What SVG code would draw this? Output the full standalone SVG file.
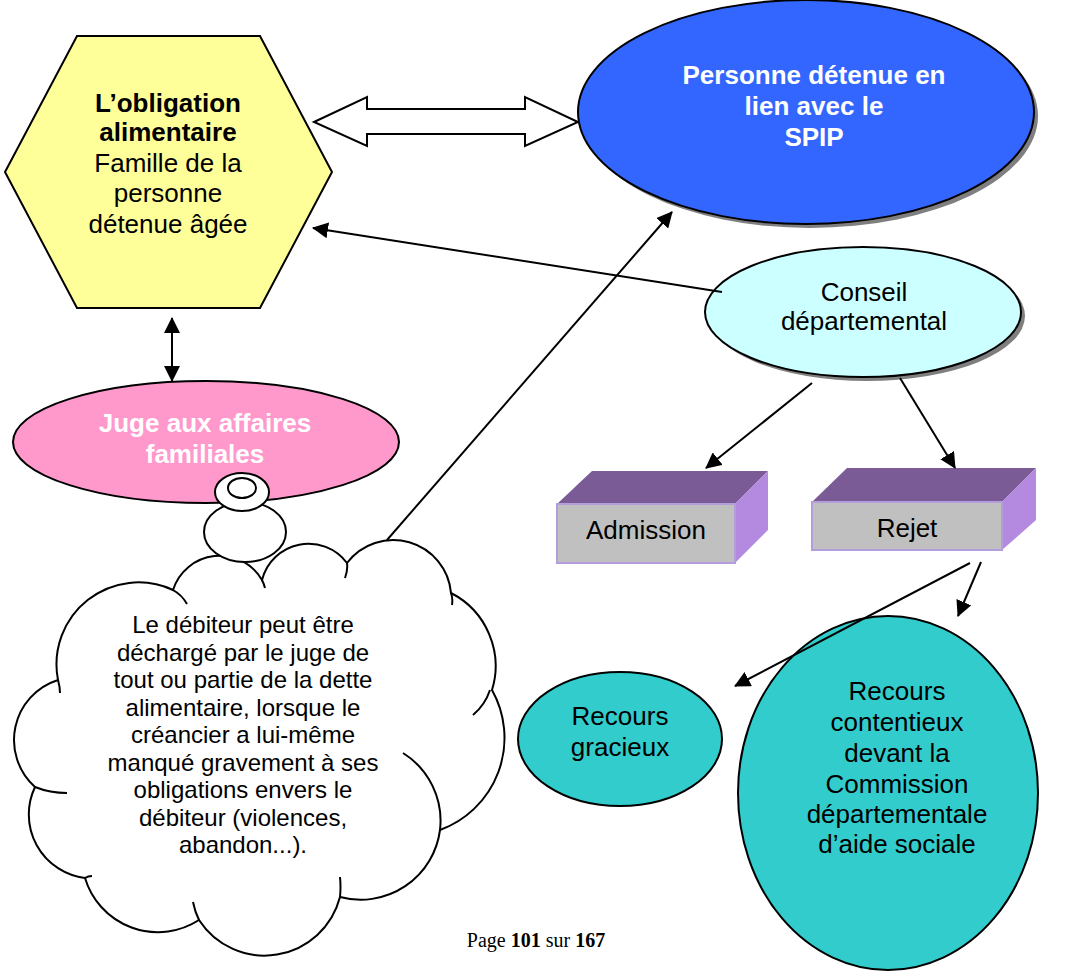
<svg xmlns="http://www.w3.org/2000/svg" width="1066" height="971" viewBox="0 0 1066 971">
<defs>
<style>
.t{font-family:"Liberation Sans",Arial,sans-serif;text-anchor:middle}
.b{font-weight:bold;font-size:26px}
.r26{font-size:26px;fill:#000}
.r24{font-size:24px;fill:#000}
.w{fill:#fff}
.k{fill:#000}
.ln{stroke:#000;stroke-width:2;fill:none}
.sh{fill:#7f7f7f}
.ol{stroke:#000;stroke-width:2}
.top{fill:#7a5b96}
.side{fill:#b48ae0}
.front{fill:#c0c0c0;stroke:#b39ddb;stroke-width:2}
.cl{fill:#fff;stroke:#000;stroke-width:2}
</style>
<marker id="ah" viewBox="0 0 16 16" refX="15" refY="8" markerWidth="16" markerHeight="16" markerUnits="userSpaceOnUse" orient="auto-start-reverse">
<path d="M0,0 L16,8 L0,16 z" fill="#000"/>
</marker>
</defs>
<rect width="1066" height="971" fill="#fff"/>

<g id="hexagone">
<polygon points="77,36 260,36 332,172 260,308 77,308 5,172" fill="#ffff99" class="ol"/>
<text class="t b k" x="168" y="112">L’obligation</text>
<text class="t b k" x="168" y="141">alimentaire</text>
<text class="t r26" x="168" y="172">Famille de la</text>
<text class="t r26" x="168" y="202">personne</text>
<text class="t r26" x="168" y="233">détenue âgée</text>
</g>

<g id="personne">
<ellipse class="sh" cx="810" cy="116" rx="228" ry="112"/>
<ellipse cx="806" cy="112" rx="228" ry="112" fill="#3366ff" class="ol"/>
<text class="t b w" x="814" y="84">Personne détenue en</text>
<text class="t b w" x="814" y="115">lien avec le</text>
<text class="t b w" x="814" y="146">SPIP</text>
</g>

<g id="conseil">
<ellipse class="sh" cx="867" cy="316" rx="158" ry="65"/>
<ellipse cx="863" cy="312" rx="158" ry="65" fill="#ccffff" class="ol"/>
<text class="t r26" x="864" y="301">Conseil</text>
<text class="t r26" x="864" y="330">départemental</text>
</g>

<g id="juge">
<ellipse cx="206" cy="442" rx="193" ry="61" fill="#ff99cc" class="ol"/>
<text class="t b w" x="205" y="432">Juge aux affaires</text>
<text class="t b w" x="205" y="463">familiales</text>
</g>

<g id="admission">
<polygon class="top" points="557,504 592,471 768,471 735,504"/>
<polygon class="side" points="735,504 768,471 768,530 735,563"/>
<rect class="front" x="557" y="504" width="178" height="59"/>
<text class="t r26" x="646" y="539">Admission</text>
</g>

<g id="rejet">
<polygon class="top" points="812,502 847,468 1036,468 1002,502"/>
<polygon class="side" points="1002,502 1036,468 1036,520 1002,550"/>
<rect class="front" x="812" y="502" width="190" height="48"/>
<text class="t r26" x="907" y="537">Rejet</text>
</g>

<g id="gracieux">
<ellipse cx="620" cy="739" rx="102" ry="67" fill="#33cccc" class="ol"/>
<text class="t r26" x="620" y="725">Recours</text>
<text class="t r26" x="620" y="756">gracieux</text>
</g>

<g id="contentieux">
<ellipse cx="888" cy="793" rx="150" ry="177" fill="#33cccc" class="ol"/>
<text class="t r26" x="897" y="700">Recours</text>
<text class="t r26" x="897" y="731">contentieux</text>
<text class="t r26" x="897" y="762">devant la</text>
<text class="t r26" x="897" y="793">Commission</text>
<text class="t r26" x="897" y="823">départementale</text>
<text class="t r26" x="897" y="853">d’aide sociale</text>
</g>

<g id="nuage">
<path class="cl" d="M173,590 A49,49 0 0 1 262,580 A48,48 0 0 1 347,563 A58,58 0 0 1 451,593 A82,82 0 0 1 492,690 A98,98 0 0 1 440,830 A80,80 0 0 1 340,897 A78,78 0 0 1 199,920 A76,76 0 0 1 85,878 A64,64 0 0 1 35,787 A63,63 0 0 1 58,680 A82,82 0 0 1 173,590 Z"/>
<path class="ln" d="M173,590 Q182,595 187,604 M347,563 Q348,570 345,578 M451,593 Q453,598 452,605 M490,690 Q485,705 473,715 M403,753 A80,80 0 0 1 440,830 M340,877 Q341,887 340,897 M193,902 Q195,912 199,920 M85,878 Q88,876 92,876 M35,787 Q50,793 67,793 M58,680 Q60,687 60,693 M262,580 Q264,584 265,588"/>
<ellipse class="cl" cx="245" cy="532" rx="41" ry="30"/>
<ellipse class="cl" cx="242" cy="492" rx="27" ry="19"/>
<ellipse class="cl" cx="242" cy="488" rx="14" ry="10"/>
<text class="t r24" x="243" y="633">Le débiteur peut être</text>
<text class="t r24" x="243" y="661">déchargé par le juge de</text>
<text class="t r24" x="243" y="688">tout ou partie de la dette</text>
<text class="t r24" x="243" y="716">alimentaire, lorsque le</text>
<text class="t r24" x="243" y="743">créancier a lui-même</text>
<text class="t r24" x="243" y="771">manqué gravement à ses</text>
<text class="t r24" x="243" y="798">obligations envers le</text>
<text class="t r24" x="243" y="826">débiteur (violences,</text>
<text class="t r24" x="243" y="853">abandon...).</text>
</g>

<g id="connecteurs">
<polygon points="314,122 367,97 367,109 525,109 525,97 578,122 525,146 525,134 367,134 367,146" fill="#fff" stroke="#000" stroke-width="2"/>
<line class="ln" x1="172" y1="318" x2="172" y2="381" marker-start="url(#ah)" marker-end="url(#ah)"/>
<line class="ln" x1="722" y1="292" x2="313" y2="228" marker-end="url(#ah)"/>
<line class="ln" x1="387" y1="540" x2="672" y2="212" marker-end="url(#ah)"/>
<line class="ln" x1="812" y1="383" x2="706" y2="468" marker-end="url(#ah)"/>
<line class="ln" x1="900" y1="378" x2="955" y2="468" marker-end="url(#ah)"/>
<line class="ln" x1="970" y1="563" x2="735" y2="686" marker-end="url(#ah)"/>
<line class="ln" x1="981" y1="562" x2="958" y2="616" marker-end="url(#ah)"/>
</g>

<text x="536" y="947" font-family="'Liberation Serif','Times New Roman',serif" font-size="20" text-anchor="middle" fill="#000">Page <tspan font-weight="bold">101</tspan> sur <tspan font-weight="bold">167</tspan></text>
</svg>
